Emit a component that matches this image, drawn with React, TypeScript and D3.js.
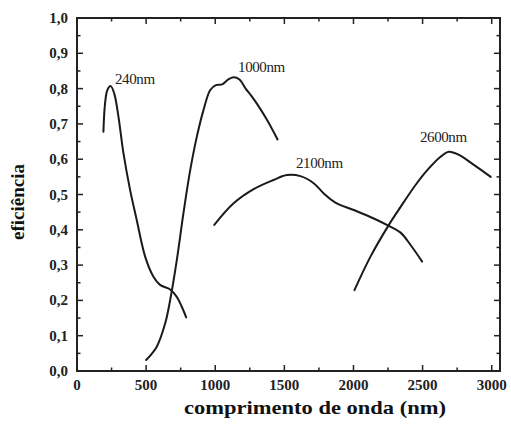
import React from "react";
import * as d3 from "d3";

const W = 511;
const H = 427;

const xTicks = [0, 500, 1000, 1500, 2000, 2500, 3000];
const xTickLabels = ["0", "500", "1000", "1500", "2000", "2500", "3000"];
const yTicks = [0, 0.1, 0.2, 0.3, 0.4, 0.5, 0.6, 0.7, 0.8, 0.9, 1.0];
const yTickLabels = ["0,0", "0,1", "0,2", "0,3", "0,4", "0,5", "0,6", "0,7", "0,8", "0,9", "1,0"];

const s240x = [191, 203, 220, 244, 270, 300, 336, 384, 432, 493, 553, 601, 674, 722, 758, 790];
const s240y = [0.678, 0.758, 0.796, 0.807, 0.785, 0.72, 0.617, 0.513, 0.428, 0.324, 0.267, 0.244, 0.231, 0.21, 0.182, 0.152];

const s1000x = [500, 577, 638, 674, 722, 770, 819, 867, 915, 964, 1005, 1050, 1090, 1133, 1175, 1220, 1260, 1300, 1375, 1451];
const s1000y = [0.031, 0.069, 0.135, 0.201, 0.314, 0.447, 0.569, 0.664, 0.739, 0.796, 0.81, 0.812, 0.825, 0.832, 0.826, 0.8, 0.78, 0.758, 0.711, 0.656];

const s2100x = [993, 1133, 1278, 1422, 1519, 1616, 1712, 1785, 1869, 2002, 2147, 2256, 2341, 2413, 2497];
const s2100y = [0.414, 0.475, 0.515, 0.541, 0.555, 0.552, 0.532, 0.503, 0.477, 0.456, 0.432, 0.411, 0.392, 0.357, 0.31];

const s2600x = [2007, 2123, 2256, 2341, 2449, 2534, 2630, 2690, 2763, 2871, 2993];
const s2600y = [0.229, 0.324, 0.414, 0.465, 0.527, 0.569, 0.607, 0.621, 0.612, 0.584, 0.55];

const seriesNames = ["240nm", "1000nm", "2100nm", "2600nm"];
const labelX = [275, 1165, 1584, 2481];
const labelY = [0.813, 0.847, 0.575, 0.649];

const left = 77, right = 500, top = 18, bottom = 371;

export default function App() {
  const x = d3.scaleLinear().domain([0, 3060]).range([left, right]);
  const y = d3.scaleLinear().domain([0, 1]).range([bottom, top]);
  const line = d3
    .line<[number, number]>()
    .x((d) => x(d[0]))
    .y((d) => y(d[1]))
    .curve(d3.curveCatmullRom.alpha(0.5));

  const series = [
    [s240x, s240y],
    [s1000x, s1000y],
    [s2100x, s2100y],
    [s2600x, s2600y],
  ].map(([xs, ys]) => xs.map((v, i) => [v, ys[i]] as [number, number]));

  const xMinor = d3.range(0, 3001, 250);
  const yMinor = d3.range(0, 1.001, 0.05);
  const font = "'Liberation Serif', 'DejaVu Serif', serif";

  return (
    <svg width={W} height={H} style={{ position: "absolute", left: 0, top: 0, background: "#fff" }}>
      <rect x={0} y={0} width={W} height={H} fill="#fff" />
      <g stroke="#222" strokeWidth={1.5}>
        {xMinor.map((v, i) => {
          const len = v % 500 === 0 ? 6 : 3.5;
          return (
            <g key={"xt" + i}>
              <line x1={x(v)} x2={x(v)} y1={bottom} y2={bottom - len} />
              <line x1={x(v)} x2={x(v)} y1={top} y2={top + len} />
            </g>
          );
        })}
        {yMinor.map((v, i) => {
          const len = i % 2 === 0 ? 6 : 3.5;
          return (
            <g key={"yt" + i}>
              <line x1={left} x2={left + len} y1={y(v)} y2={y(v)} />
              <line x1={right} x2={right - len} y1={y(v)} y2={y(v)} />
            </g>
          );
        })}
      </g>
      <rect x={left} y={top} width={right - left} height={bottom - top} fill="none" stroke="#222" strokeWidth={2} />
      {series.map((pts, i) => (
        <path key={"s" + i} d={line(pts) || ""} fill="none" stroke="#1a1a1a" strokeWidth={2} strokeLinecap="round" />
      ))}
      {seriesNames.map((n, i) => (
        <text key={"l" + i} x={x(labelX[i])} y={y(labelY[i])} fontFamily={font} fontSize={15} fill="#222" letterSpacing={-0.4}>
          {n}
        </text>
      ))}
      {xTicks.map((v, i) => (
        <text key={"xl" + i} x={x(v)} y={390} textAnchor="middle" fontFamily={font} fontSize={15} fontWeight="bold" fill="#222">
          {xTickLabels[i]}
        </text>
      ))}
      {yTicks.map((v, i) => (
        <text key={"yl" + i} x={68} y={y(v) + 5} textAnchor="end" fontFamily={font} fontSize={15} fontWeight="bold" fill="#222">
          {yTickLabels[i]}
        </text>
      ))}
      <text x={315} y={414} textAnchor="middle" fontFamily={font} fontSize={19} fontWeight="bold" fill="#111" textLength={262} lengthAdjust="spacingAndGlyphs">
        comprimento de onda (nm)
      </text>
      <text transform="translate(24,202) rotate(-90)" textAnchor="middle" fontFamily={font} fontSize={19} fontWeight="bold" fill="#111">
        eficiência
      </text>
    </svg>
  );
}
